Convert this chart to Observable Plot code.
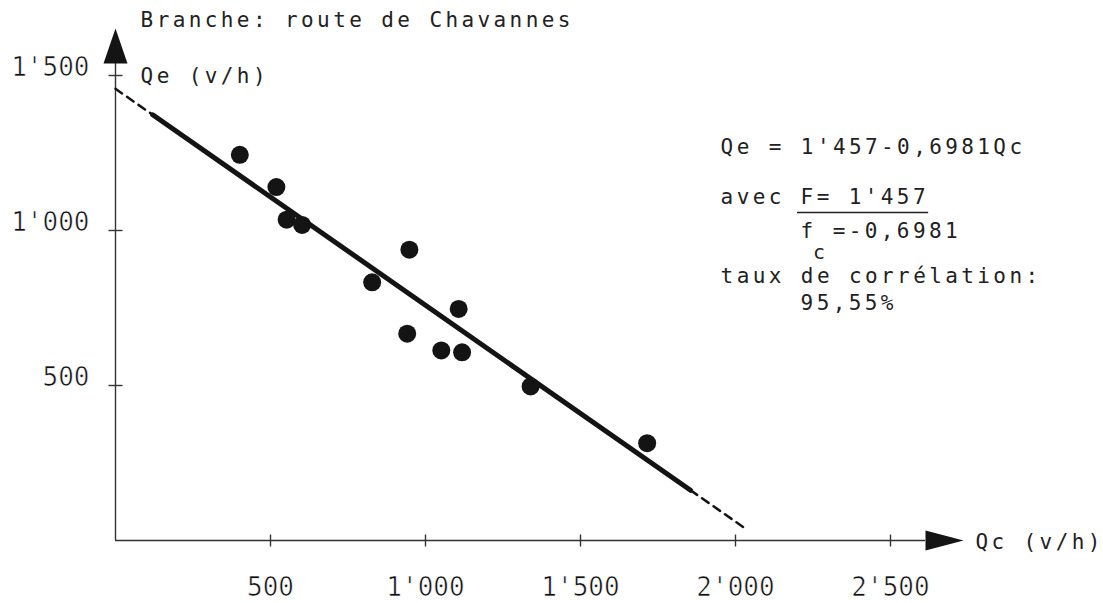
<!DOCTYPE html>
<html><head><meta charset="utf-8">
<script src="https://cdn.jsdelivr.net/npm/d3@7"></script>
<script src="https://cdn.jsdelivr.net/npm/@observablehq/plot@0.6"></script>
<style>
html,body{margin:0;padding:0;background:#fff;overflow:hidden}
svg text{font-family:"DejaVu Sans Mono",monospace}
g[font-size="21"] text{letter-spacing:3.4px}
</style></head><body><div id="chart"></div>
<script>
// ---- data ----
const qc = [401, 519, 552, 602, 828, 948, 941, 1051, 1107, 1118, 1339, 1715];
const qe = [1244, 1140, 1035, 1018, 833, 938, 667, 613, 747, 607, 497, 314];
const xTicks = [500, 1000, 1500, 2000, 2500];
const yTicks = [500, 1000, 1500];
const intercept = 1457, slope = -0.6981;
const fitSolid = [120, 1855];
const fitDashLow = [0, 120];
const fitDashHigh = [1855, 2030];
const titleText = "Branche: route de Chavannes";
const yLabel = "Qe (v/h)";
const xLabel = "Qc (v/h)";

const fmt = d => d3.format(",")(d).replace(/,/g, "'");
const points = qc.map((x, i) => ({x, y: qe[i]}));
const fitLine = xs => xs.map(x => ({x, y: intercept + slope * x}));

// ---- layout (annotation anchors, data units) ----
const xAxisEnd = 2613, yAxisEnd = 1539;
const notes = [
  {x: 81, y: 1655, text: titleText},
  {x: 81, y: 1477, text: yLabel},
  {x: 2774, y: -29, text: xLabel},
  {x: 1952, y: 1248, text: "Qe = 1'457-0,6981Qc"},
  {x: 1952, y: 1087, text: "avec"},
  {x: 2210, y: 1087, text: "F= 1'457"},
  {x: 2210, y: 977, text: "f =-0,6981"},
  {x: 1952, y: 832, text: "taux de corrélation:"},
  {x: 2210, y: 742, text: "95,55%"}
];
const subscript = {x: 2250, y: 907, text: "c"};
const underline = {x1: 2200, x2: 2623, y: 1058};

const lineSym = (x1, y1, x2, y2) => ({draw(c) { c.moveTo(x1, y1); c.lineTo(x2, y2); }});
const hTick = lineSym(-7, 0, 7, 0);
const vTick = lineSym(0, -6, 0, 6);
const arrowUp = {draw(c) { c.moveTo(0, -35); c.lineTo(12, 0); c.lineTo(-12, 0); c.closePath(); }};
const arrowRight = {draw(c) { c.moveTo(38, 0); c.lineTo(0, -10); c.lineTo(0, 10); c.closePath(); }};

const ink = "#141414";
const chart = Plot.plot({
  width: 1103, height: 603,
  marginLeft: 115, marginRight: 213, marginTop: 75, marginBottom: 63,
  x: {domain: [0, 2500], axis: null},
  y: {domain: [0, 1500], axis: null},
  style: {background: "#fff", color: ink, fontFamily: "DejaVu Sans Mono"},
  marks: [
    Plot.ruleY([0], {x1: 0, x2: xAxisEnd, stroke: "#333", strokeWidth: 1.4}),
    Plot.ruleX([0], {y1: 0, y2: yAxisEnd, stroke: "#333", strokeWidth: 1.4}),
    Plot.dot(xTicks, {x: d => d, y: 0, symbol: vTick, stroke: "#333", fill: "none", strokeWidth: 1.4}),
    Plot.dot(yTicks, {x: 0, y: d => d, symbol: hTick, stroke: "#333", fill: "none", strokeWidth: 1.4}),
    Plot.dot([0], {x: 0, y: yAxisEnd, symbol: arrowUp, fill: ink, stroke: "none"}),
    Plot.dot([0], {x: xAxisEnd, y: 0, symbol: arrowRight, fill: ink, stroke: "none"}),
    Plot.text(xTicks, {x: d => d, y: 0, text: fmt, dy: 55, lineAnchor: "bottom", textAnchor: "middle", fontSize: 26, fill: "#111", stroke: "#fff", strokeWidth: 0.6, paintOrder: "normal"}),
    Plot.text(yTicks, {x: 0, y: d => d, text: fmt, dx: -26, lineAnchor: "bottom", textAnchor: "end", fontSize: 26, fill: "#111", stroke: "#fff", strokeWidth: 0.6, paintOrder: "normal"}),
    Plot.line(fitLine(fitDashLow), {x: "x", y: "y", stroke: ink, strokeWidth: 2.5, strokeDasharray: "8,6"}),
    Plot.line(fitLine(fitDashHigh), {x: "x", y: "y", stroke: ink, strokeWidth: 2.5, strokeDasharray: "8,6"}),
    Plot.line(fitLine(fitSolid), {x: "x", y: "y", stroke: ink, strokeWidth: 5, strokeLinecap: "round"}),
    Plot.dot(points, {x: "x", y: "y", r: 9, fill: ink, stroke: "none"}),
    Plot.text(notes, {x: "x", y: "y", text: "text", textAnchor: "start", lineAnchor: "bottom", fontSize: 21, fill: "#222"}),
    Plot.text([subscript], {x: "x", y: "y", text: "text", textAnchor: "start", lineAnchor: "bottom", fontSize: 20, fill: "#222"}),
    Plot.ruleY([underline], {x1: "x1", x2: "x2", y: "y", stroke: "#222", strokeWidth: 1.5})
  ]
});
document.getElementById("chart").appendChild(chart);
</script></body></html>
